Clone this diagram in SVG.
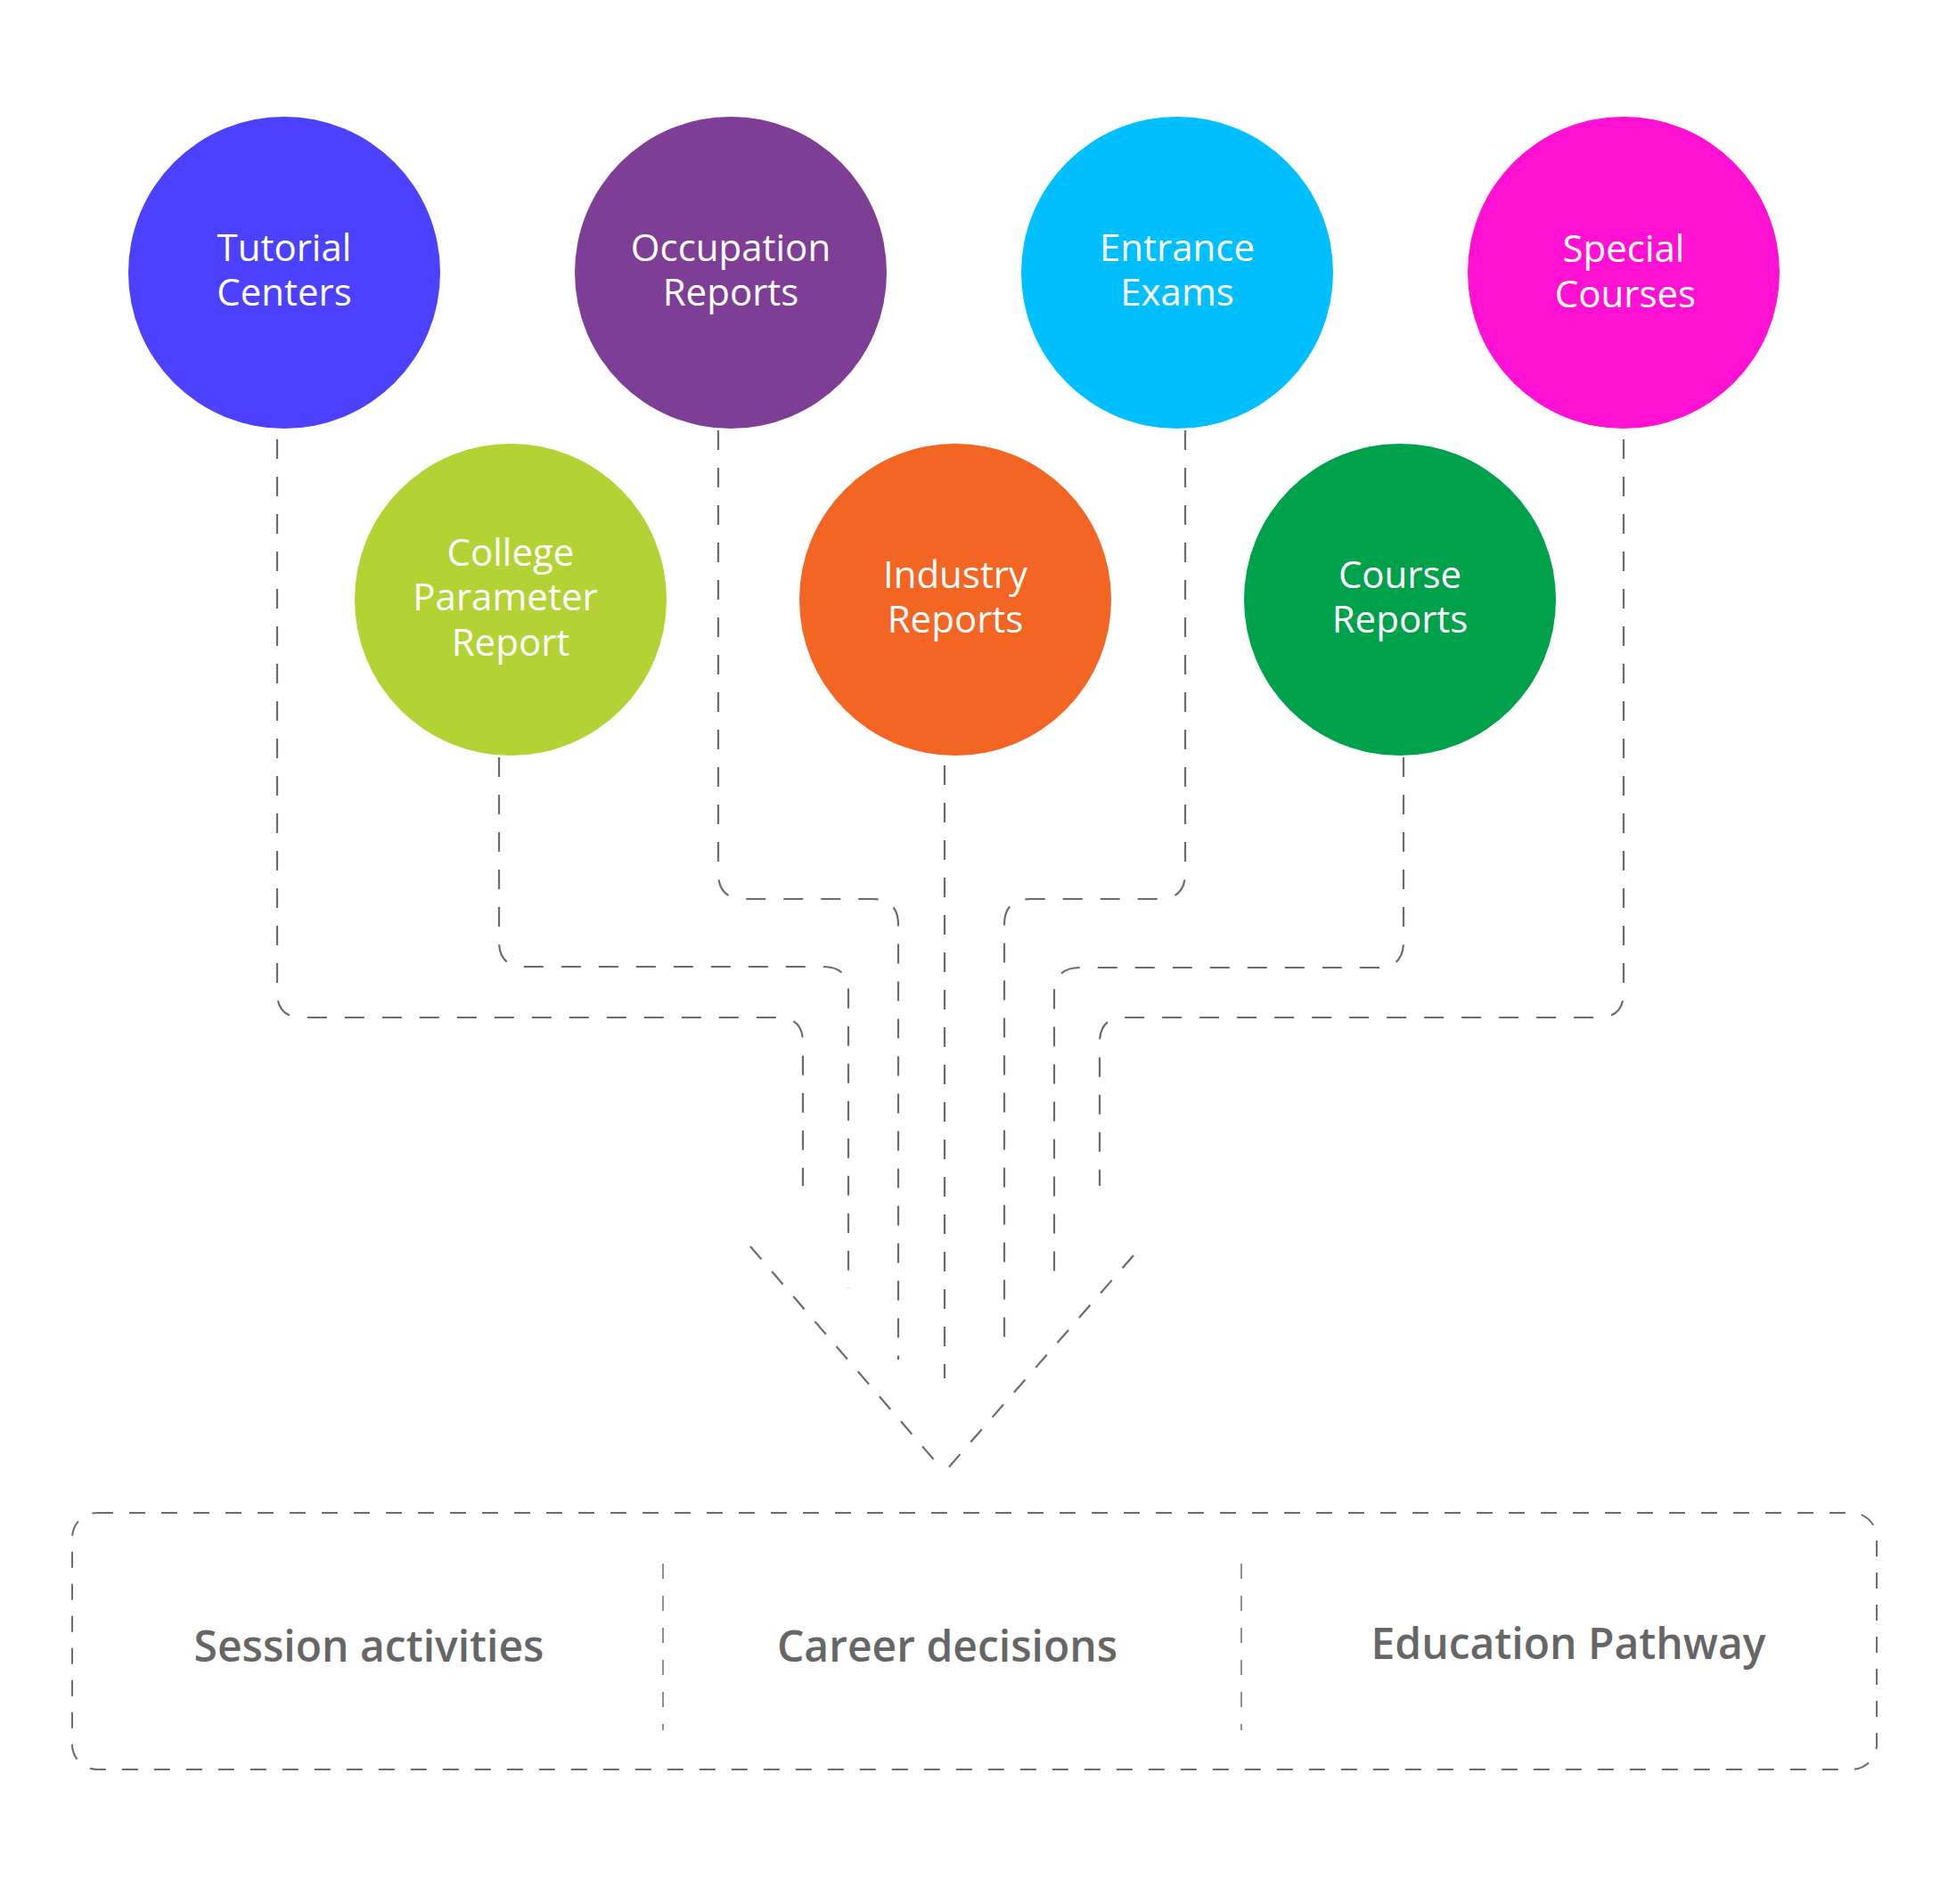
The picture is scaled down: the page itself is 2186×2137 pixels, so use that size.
<svg xmlns="http://www.w3.org/2000/svg" width="2186" height="2137" viewBox="0 0 2186 2137">
<style>
.lbl{font-family:"Open Sans","Noto Sans",sans-serif;font-size:42px;fill:#ffffff;text-anchor:middle}
.conn{fill:none;stroke:#6b6b6b;stroke-width:2.2;stroke-dasharray:22 20}
.v{fill:none;stroke:#6b6b6b;stroke-width:2.2;stroke-dasharray:19 18}
.box{fill:none;stroke:#6b6b6b;stroke-width:2;stroke-dasharray:18 18}
.div{fill:none;stroke:#6b6b6b;stroke-width:1.5;stroke-dasharray:17 19}
.bt{font-family:"Open Sans","Noto Sans",sans-serif;font-size:48px;font-weight:600;fill:#666666;text-anchor:middle}
</style>
<rect width="2186" height="2137" fill="#ffffff"/>
<g id="connectors">
<path class="conn" d="M311 493 V1114 Q311 1142 339 1142 H873 Q901 1142 901 1170 V1331"/>
<path class="conn" d="M560 850 V1057 Q560 1085 588 1085 H924 Q952 1085 952 1113 V1446"/>
<path class="conn" d="M806 483 V980 Q806 1009 835 1009 H979 Q1008 1009 1008 1038 V1526"/>
<path class="conn" d="M1060 859 V1547"/>
<path class="conn" d="M1330 483 V980 Q1330 1009 1301 1009 H1156 Q1127 1009 1127 1038 V1507"/>
<path class="conn" d="M1575 850 V1057 Q1575 1086 1546 1086 H1212 Q1183 1086 1183 1115 V1446"/>
<path class="conn" d="M1822 493 V1114 Q1822 1142 1794 1142 H1262 Q1234 1142 1234 1170 V1331"/>
<path class="v" d="M842 1399 L1052 1643"/>
<path class="v" d="M1272 1409 L1061 1651"/>
</g>
<g id="node-tutorial">
<circle cx="319" cy="306" r="175" fill="#4B41FE"/>
<text class="lbl" x="319" y="293">Tutorial</text>
<text class="lbl" x="319" y="343">Centers</text>
</g>
<g id="node-occupation">
<circle cx="820" cy="306" r="175" fill="#7E3E96"/>
<text class="lbl" x="820" y="293">Occupation</text>
<text class="lbl" x="820" y="343">Reports</text>
</g>
<g id="node-entrance">
<circle cx="1321" cy="306" r="175" fill="#00BFFE"/>
<text class="lbl" x="1321" y="293">Entrance</text>
<text class="lbl" x="1321" y="343">Exams</text>
</g>
<g id="node-special">
<circle cx="1822" cy="306" r="175" fill="#FF10D3"/>
<text class="lbl" x="1822" y="294">Special</text>
<text class="lbl" x="1824" y="345">Courses</text>
</g>
<g id="node-college">
<circle cx="573" cy="673" r="175" fill="#B3D335"/>
<text class="lbl" x="573" y="635">College</text>
<text class="lbl" x="567" y="685">Parameter</text>
<text class="lbl" x="573" y="736">Report</text>
</g>
<g id="node-industry">
<circle cx="1072" cy="673" r="175" fill="#F26523"/>
<text class="lbl" x="1072" y="660">Industry</text>
<text class="lbl" x="1072" y="710">Reports</text>
</g>
<g id="node-course">
<circle cx="1571" cy="673" r="175" fill="#00A14B"/>
<text class="lbl" x="1571" y="660">Course</text>
<text class="lbl" x="1571" y="710">Reports</text>
</g>
<g id="node-outcomes">
<rect class="box" x="81" y="1698" width="2025" height="288" rx="28" ry="28"/>
<line class="div" x1="744" y1="1755" x2="744" y2="1942"/>
<line class="div" x1="1393" y1="1755" x2="1393" y2="1942"/>
<text class="bt" x="414" y="1865">Session activities</text>
<text class="bt" x="1063" y="1865">Career decisions</text>
<text class="bt" x="1760" y="1862">Education Pathway</text>
</g>
</svg>
